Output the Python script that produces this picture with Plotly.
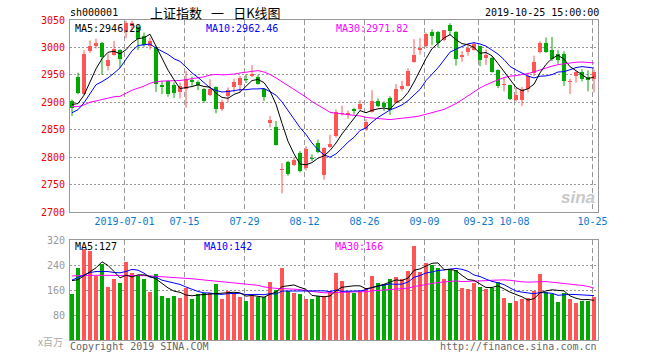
import plotly.graph_objects as go
import pandas as pd

# ---------------- data ----------------
dates = ["06-18","06-19","06-20","06-21","06-24","06-25","06-26","06-27","06-28",
         "07-01","07-02","07-03","07-04","07-05","07-08","07-09","07-10","07-11","07-12",
         "07-15","07-16","07-17","07-18","07-19","07-22","07-23","07-24","07-25","07-26",
         "07-29","07-30","07-31","08-01","08-02","08-05","08-06","08-07","08-08","08-09",
         "08-12","08-13","08-14","08-15","08-16","08-19","08-20","08-21","08-22","08-23",
         "08-26","08-27","08-28","08-29","08-30","09-02","09-03","09-04","09-05","09-06",
         "09-09","09-10","09-11","09-12","09-16","09-17","09-18","09-19","09-20",
         "09-23","09-24","09-25","09-26","09-27","09-30",
         "10-08","10-09","10-10","10-11","10-14","10-15","10-16","10-17","10-18",
         "10-21","10-22","10-23","10-24","10-25"]

opens = [2902, 2946, 2915, 2993, 3003, 3008, 2966, 2986, 2995,
         3029, 3039, 3037, 3020, 3003, 3001, 2932, 2938, 2931, 2919.5,
         2925, 2941, 2937, 2924, 2913, 2927, 2887, 2911, 2927, 2931,
         2943, 2948, 2947, 2924, 2862, 2855, 2776, 2791, 2786, 2808,
         2780, 2799, 2826, 2767, 2819, 2838, 2878, 2877, 2887, 2888,
         2851, 2882, 2903, 2899, 2908, 2899, 2925, 2930, 2974, 2995,
         3002, 3028, 3028, 3014, 3041, 3029, 2983, 2991, 2995,
         3002, 2980, 2980, 2958, 2931, 2931,
         2905, 2904, 2924, 2954, 2992, 3008, 2996, 2988, 2988,
         2937, 2948, 2955, 2946, 2943]
highs = [2905, 2954, 2995, 3013, 3016, 3010, 2989, 3012, 2997,
         3048.5, 3049, 3042, 3027, 3018, 3003, 2939, 2940, 2936, 2936,
         2957, 2947, 2940, 2926, 2942, 2929, 2905, 2927, 2943, 2948,
         2951, 2968, 2950, 2926, 2875, 2866, 2789, 2793, 2800, 2811,
         2820, 2805, 2832, 2818, 2841, 2887, 2894, 2885, 2890, 2904,
         2869, 2922, 2907, 2902, 2911, 2933, 2939, 2962, 3015, 3017,
         3027, 3033, 3030, 3031.5, 3044, 3030, 2993, 3005, 3010,
         3003, 2996, 2984, 2960, 2945, 2932,
         2926, 2928, 2954, 2985, 3011, 3018, 3019, 2995, 2993,
         2943, 2957, 2960, 2958, 2960]
lows = [2875, 2915, 2913, 2990, 2998, 2950, 2958, 2985, 2963,
        3017, 3031, 2995, 3001, 2996, 2919, 2915, 2910, 2908, 2907,
        2890, 2930, 2922, 2899, 2911, 2880, 2884, 2900, 2918, 2918,
        2935, 2946, 2932, 2902, 2854, 2821, 2734, 2766, 2784, 2772,
        2776, 2793, 2807, 2759, 2817, 2836, 2876, 2870, 2878, 2884,
        2848, 2881, 2891, 2884, 2877, 2898, 2921, 2929, 2972, 2987,
        3000, 3004, 3000, 3011, 3022, 2967, 2974, 2985, 2994,
        2966, 2968, 2954, 2926, 2920, 2904,
        2902, 2893, 2918, 2948, 2989, 2990, 2975, 2970, 2930,
        2915, 2936, 2938, 2920, 2918]
closes = [2890.16, 2917.80, 2987.12, 3001.98, 3008.15, 2982.07, 2976.28, 2996.79, 2978.88,
          3044.90, 3043.94, 3015.26, 3005.25, 3011.06, 2933.36, 2928.23, 2915.30, 2917.76, 2930.55,
          2942.19, 2937.62, 2931.69, 2901.95, 2924.20, 2886.97, 2899.94, 2923.28, 2937.36, 2944.54,
          2941.01, 2952.34, 2932.51, 2908.77, 2867.84, 2821.50, 2777.56, 2768.68, 2794.55, 2774.75,
          2814.99, 2797.26, 2808.91, 2815.80, 2823.82, 2883.10, 2880.00, 2880.33, 2883.44, 2897.43,
          2863.57, 2902.19, 2893.76, 2890.92, 2886.24, 2924.11, 2930.15, 2957.41, 2985.86, 2999.60,
          3024.74, 3021.20, 3008.81, 3031.24, 3030.75, 2978.12, 2985.66, 2999.28, 3006.45,
          2977.08, 2985.34, 2955.43, 2929.09, 2932.17, 2905.19,
          2913.57, 2924.86, 2947.71, 2973.66, 3007.88, 2991.05, 2978.71, 2977.33, 2938.14,
          2939.62, 2954.38, 2941.62, 2940.92, 2954.93]
# closes of the 29 sessions before the first candle (needed for the MA lines)
prior_closes = [2926.39, 2893.76, 2850.95, 2939.21, 2903.71, 2883.61, 2938.68, 2955.71, 2882.30,
                2870.60, 2905.97, 2891.70, 2852.52, 2852.99, 2892.38, 2909.91, 2914.70, 2905.81,
                2898.70, 2890.08, 2862.28, 2861.42, 2827.80, 2852.13, 2925.72, 2909.38, 2910.74,
                2881.97, 2887.62]

volumes = [146, 229, 290, 284, 206, 242, 171, 194, 181,
           249, 213, 205, 194, 155, 210, 142, 133, 142, 136,
           166, 130, 146, 149, 149, 178, 131, 157, 149, 139,
           126, 142, 139, 139, 185, 161, 230, 156, 149, 146,
           131, 131, 142, 142, 158, 214, 188, 158, 149, 158,
           167, 206, 182, 178, 194, 201, 196, 222, 302, 217,
           246, 240, 229, 194, 223, 223, 165, 162, 181,
           169, 162, 167, 187, 133, 117,
           124, 130, 133, 158, 210, 155, 147, 123, 151,
           130, 117, 124, 126, 137]
vol_ma5_head = [190, 193, 206, 219]
vol_ma10_head = [192, 200, 209, 216, 219, 220, 219, 216, 215]
vol_ma30_head = [205, 206, 207, 207, 207, 207, 207, 207, 207, 208, 208, 207, 206, 205,
                 204, 202, 201, 200, 199, 198, 196, 194, 192, 190, 188, 186, 184, 182, 180]

tick_dates = ["07-01", "07-15", "07-29", "08-12", "08-26", "09-09", "09-23", "10-08", "10-25"]
tick_labels = ["2019-07-01", "07-15", "07-29", "08-12", "08-26", "09-09", "09-23", "10-08", "10-25"]
price_ticks = [2700, 2750, 2800, 2850, 2900, 2950, 3000, 3050]
vol_ticks = [80, 160, 240, 320]

# ---------------- derived ----------------
n = len(dates)
xs = list(range(n))
allc = pd.Series(prior_closes + closes)
ma5 = allc.rolling(5).mean().iloc[len(prior_closes):].tolist()
ma10 = allc.rolling(10).mean().iloc[len(prior_closes):].tolist()
ma30 = allc.rolling(30).mean().iloc[len(prior_closes):].tolist()
vs = pd.Series(volumes, dtype=float)
vma5 = vs.rolling(5).mean().tolist()
vma10 = vs.rolling(10).mean().tolist()
vma30 = vs.rolling(30).mean().tolist()
vma5[:len(vol_ma5_head)] = vol_ma5_head
vma10[:len(vol_ma10_head)] = vol_ma10_head
vma30[:len(vol_ma30_head)] = vol_ma30_head

UP = "#ff5555"
DN = "#00a800"
up = [c >= o for o, c in zip(opens, closes)]
cols = [UP if u else DN for u in up]

MINB = 1.9
base, hgt = [], []
for o, c in zip(opens, closes):
    lo, hi = min(o, c), max(o, c)
    if hi - lo < MINB:
        m = (hi + lo) / 2
        lo, hi = m - MINB / 2, m + MINB / 2
    base.append(lo)
    hgt.append(hi - lo)

fig = go.Figure()

for flag, col in ((True, UP), (False, DN)):
    wx, wy = [], []
    for i in xs:
        if up[i] == flag:
            wx += [i, i, None]
            wy += [lows[i], highs[i], None]
    fig.add_trace(go.Scatter(x=wx, y=wy, mode="lines", line=dict(color=col, width=1),
                             hoverinfo="skip", showlegend=False, xaxis="x", yaxis="y"))

fig.add_trace(go.Bar(x=xs, y=hgt, base=base, width=0.83, marker=dict(color=cols, line=dict(width=0)),
                     showlegend=False, xaxis="x", yaxis="y"))

for arr, col in ((ma30, "#ff00ff"), (ma10, "#0000ff"), (ma5, "#000000")):
    fig.add_trace(go.Scatter(x=xs, y=arr, mode="lines", line=dict(color=col, width=1),
                             showlegend=False, xaxis="x", yaxis="y"))

fig.add_trace(go.Bar(x=xs, y=volumes, width=0.83, marker=dict(color=cols, line=dict(width=0)),
                     showlegend=False, xaxis="x2", yaxis="y2"))
for arr, col in ((vma30, "#ff00ff"), (vma10, "#0000ff"), (vma5, "#000000")):
    fig.add_trace(go.Scatter(x=xs, y=arr, mode="lines", line=dict(color=col, width=1),
                             showlegend=False, xaxis="x2", yaxis="y2"))

tickpos = [dates.index(d) - 0.25 for d in tick_dates]

W, H = 660, 360
L, T = 70, 20
R = W - 598
B = H - 340
PW, PH = W - L - R, H - T - B


def px(xp):
    return (xp - L) / PW


def py(yp):
    return (H - B - yp) / PH


GRID = "#999999"
BORDER = "#999999"
MONO = "DejaVu Sans Mono"

xcommon = dict(range=[-0.333, n - 0.333], showline=True, mirror=True, linecolor=BORDER, linewidth=1,
               zeroline=False, showgrid=True, gridcolor=GRID, griddash="5px,3px", gridwidth=1,
               tickmode="array", tickvals=tickpos, ticks="", ticklen=0)
ycommon = dict(ticks="", ticklen=0, showline=True, mirror=True, linecolor=BORDER, linewidth=1,
               zeroline=False, showgrid=True, gridcolor=GRID, griddash="2px,2px", gridwidth=1,
               ticklabelstandoff=2)
fig.update_layout(
    width=W, height=H, margin=dict(l=L, r=R, t=T, b=B, autoexpand=False),
    paper_bgcolor="white", plot_bgcolor="white", barmode="overlay", bargap=0,
    font=dict(family=MONO, size=10, color="#000"),
    showlegend=False, hovermode=False,
    xaxis=dict(domain=[0, 1], anchor="y", ticktext=tick_labels,
               tickfont=dict(color="#0a78d0", size=10), **xcommon),
    xaxis2=dict(domain=[0, 1], anchor="y2", matches="x", showticklabels=False, ticktext=tick_labels,
                **xcommon),
    yaxis=dict(domain=[0.4, 1.0], range=[2700, 3050], tickvals=price_ticks,
               tickfont=dict(color="#ee0000", size=10), **ycommon),
    yaxis2=dict(domain=[0, 0.3125], range=[0, 320], tickvals=vol_ticks,
                tickfont=dict(color="#999999", size=10), **ycommon),
)

ann = []


def text(x, y, s, color="#000", size=10, anchor="left", family=MONO, **kw):
    ann.append(dict(x=px(x), y=py(y), xref="paper", yref="paper", text=s, showarrow=False,
                    xanchor=anchor, yanchor="middle", font=dict(family=family, size=size, color=color),
                    borderpad=0, **kw))


text(69, 13, "sh000001")
text(215, 13, "上证指数\u2002\u2009一\u2002\u2009日K线图", size=13, anchor="center", family="Noto Sans CJK SC")
text(600, 13, "2019-10-25 15:00:00", anchor="right")
text(74, 28, f"MA5:{ma5[-1]:.2f}")
text(205, 28, f"MA10:{ma10[-1]:.2f}", color="#0000ff")
text(335, 28, f"MA30:{ma30[-1]:.2f}", color="#ff00ff")
text(74, 246, f"MA5:{vma5[-1]:.0f}")
text(203, 246, f"MA10:{vma10[-1]:.0f}", color="#0000ff")
text(334, 246, f"MA30:{vma30[-1]:.0f}", color="#ff00ff")
text(64, 341, "x百万", color="#aaaaaa", anchor="right", family="Noto Sans CJK SC")
text(69, 346, "Copyright 2019 SINA.COM", color="#666666")
text(598, 346, "http://finance.sina.com.cn", color="#666666", anchor="right")
text(596, 197, "<b><i>sina</i></b>", color="#c8c8c8", size=17, anchor="right", family="Liberation Sans")
fig.update_layout(annotations=ann)

# remove the browser's default 8px body margin so the figure fills the window exactly
fig.write_html("out.html", config={"displayModeBar": False, "staticPlot": True},
               post_script="document.body.style.margin='0';")
